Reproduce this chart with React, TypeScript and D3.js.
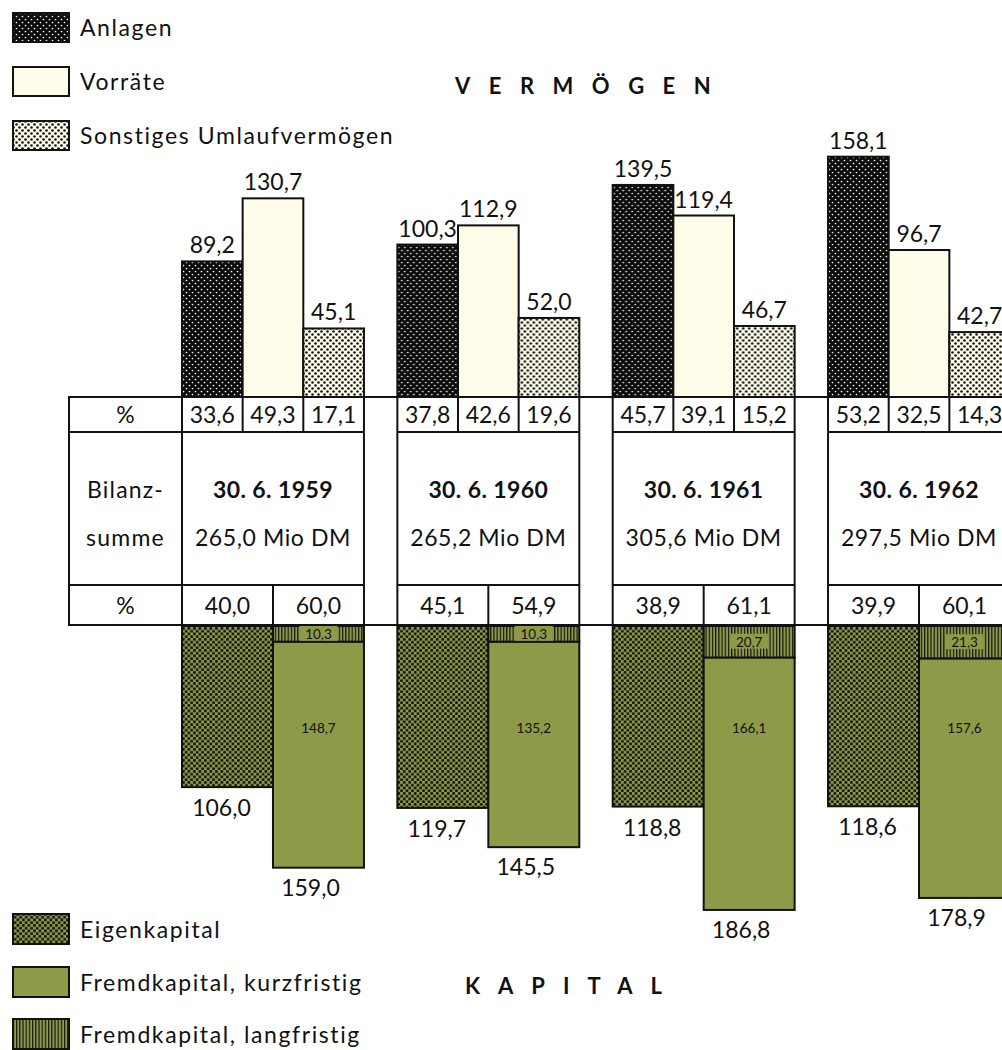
import React from "react";
import * as d3 from "d3";

const years = ["1959", "1960", "1961", "1962"];
const dates = ["30. 6. 1959", "30. 6. 1960", "30. 6. 1961", "30. 6. 1962"];
const bilanzsumme = [265.0, 265.2, 305.6, 297.5];
const anlagen = [89.2, 100.3, 139.5, 158.1];
const vorraete = [130.7, 112.9, 119.4, 96.7];
const sonstiges = [45.1, 52.0, 46.7, 42.7];
const pctAnlagen = [33.6, 37.8, 45.7, 53.2];
const pctVorraete = [49.3, 42.6, 39.1, 32.5];
const pctSonstiges = [17.1, 19.6, 15.2, 14.3];
const eigenkapital = [106.0, 119.7, 118.8, 118.6];
const fremdKurz = [148.7, 135.2, 166.1, 157.6];
const fremdLang = [10.3, 10.3, 20.7, 21.3];
const fremdGesamt = [159.0, 145.5, 186.8, 178.9];
const pctEigen = [40.0, 45.1, 38.9, 39.9];
const pctFremd = [60.0, 54.9, 61.1, 60.1];

const vermKeys = ["anlagen", "vorraete", "sonstiges"];
const kapKeys = ["eigen", "fremd"];

const FONT = "Lato, 'Noto Sans', sans-serif";
const GREEN = "#8d9a48";
const CREAM = "#fffdea";

const fmt = (v: number) => d3.format(".1f")(v).replace(".", ",");

export default function App() {
  const W = 1002, H = 1050;
  const baseTop = 397;
  const baseBot = 626;
  const tRow1 = 432, tRow2 = 585;
  const labelLeft = 69;

  const x = d3.scaleBand<string>().domain(years).range([182, 1010]).paddingInner(0.155).paddingOuter(0);
  const bw = x.bandwidth();
  const xv = d3.scaleBand<string>().domain(vermKeys).range([0, bw]).padding(0);
  const xk = d3.scaleBand<string>().domain(kapKeys).range([0, bw]).padding(0);
  const y = d3.scaleLinear().domain([0, 200]).range([0, 304]);

  const vermFill: Record<string, string> = {
    anlagen: "url(#pAnlagen)",
    vorraete: CREAM,
    sonstiges: "url(#pSonst)",
  };
  const vermVals: Record<string, number[]> = { anlagen, vorraete, sonstiges };
  const vermPct: Record<string, number[]> = { anlagen: pctAnlagen, vorraete: pctVorraete, sonstiges: pctSonstiges };

  const textBase = { fontFamily: FONT, fill: "#111" } as const;
  const TS = 23; // table font size
  const LS = 0.6; // table letter spacing

  return (
    <svg width={W} height={H} style={{ position: "absolute", left: 0, top: 0, background: "#fff" }}>
      <defs>
        <pattern id="pAnlagen" width="6" height="6" patternUnits="userSpaceOnUse">
          <rect width="6" height="6" fill="#0b0b0b" />
          <circle cx="1.5" cy="1.5" r="0.85" fill="#fff" />
          <circle cx="4.5" cy="4.5" r="0.85" fill="#fff" />
        </pattern>
        <pattern id="pSonst" width="6" height="6" patternUnits="userSpaceOnUse">
          <rect width="6" height="6" fill={CREAM} />
          <circle cx="1.5" cy="1.5" r="1.3" fill="#111" />
          <circle cx="4.5" cy="4.5" r="1.3" fill="#111" />
        </pattern>
        <pattern id="pEigen" width="5.5" height="5.5" patternUnits="userSpaceOnUse">
          <rect width="5.5" height="5.5" fill={GREEN} />
          <circle cx="1.4" cy="1.4" r="1.5" fill="#151510" />
          <circle cx="4.15" cy="4.15" r="1.5" fill="#151510" />
        </pattern>
        <pattern id="pLang" width="3.2" height="6" patternUnits="userSpaceOnUse">
          <rect width="3.2" height="6" fill={GREEN} />
          <rect x="0" width="1.2" height="6" fill="#151510" />
        </pattern>
      </defs>

      {/* Top legend */}
      {[
        { label: "Anlagen", fill: "url(#pAnlagen)", y: 13 },
        { label: "Vorräte", fill: CREAM, y: 67 },
        { label: "Sonstiges Umlaufvermögen", fill: "url(#pSonst)", y: 121 },
      ].map((d) => (
        <g key={d.label}>
          <rect x={13} y={d.y} width={56} height={29} fill={d.fill} stroke="#111" strokeWidth={2} />
          <text x={80} y={d.y + 23} fontSize={23} letterSpacing={1.6} {...textBase}>{d.label}</text>
        </g>
      ))}
      <text x={455} y={94} fontSize={22} fontWeight="bold" letterSpacing={18.5} {...textBase}>VERMÖGEN</text>

      {/* Vermögen bars */}
      {years.map((yr, i) => (
        <g key={"v" + yr} transform={`translate(${x(yr)},0)`}>
          {vermKeys.map((k) => {
            const v = vermVals[k][i];
            const h = y(v);
            return (
              <g key={k}>
                <rect x={xv(k)!} y={baseTop - h} width={xv.bandwidth()} height={h} fill={vermFill[k]} stroke="#111" strokeWidth={2} />
                <text x={xv(k)! + xv.bandwidth() / 2} y={baseTop - h - 8} textAnchor="middle" fontSize={23} {...textBase}>{fmt(v)}</text>
              </g>
            );
          })}
        </g>
      ))}

      {/* Kapital bars */}
      {years.map((yr, i) => {
        const ex = xk("eigen")!, fx = xk("fremd")!, kw = xk.bandwidth();
        const hE = y(eigenkapital[i]);
        const hL = y(fremdLang[i]);
        const hK = y(fremdKurz[i]);
        const hT = y(fremdGesamt[i]);
        return (
          <g key={"k" + yr} transform={`translate(${x(yr)},0)`}>
            <rect x={ex} y={baseBot} width={kw} height={hE} fill="url(#pEigen)" stroke="#111" strokeWidth={2} />
            <rect x={fx} y={baseBot + hL} width={kw} height={hK} fill={GREEN} stroke="#111" strokeWidth={2} />
            <rect x={fx} y={baseBot} width={kw} height={hL} fill="url(#pLang)" stroke="#111" strokeWidth={2} />
            <rect x={fx + kw / 2 - 19} y={baseBot + hL / 2 - 8} width={38} height={15} fill={GREEN} />
            <text x={fx + kw / 2} y={baseBot + hL / 2 + 5} textAnchor="middle" fontSize={13.5} {...textBase}>{fmt(fremdLang[i])}</text>
            <text x={fx + kw / 2} y={baseBot + 107} textAnchor="middle" fontSize={13.5} {...textBase}>{fmt(fremdKurz[i])}</text>
            <text x={ex + kw / 2 - 6} y={baseBot + hE + 29} textAnchor="middle" fontSize={23} {...textBase}>{fmt(eigenkapital[i])}</text>
            <text x={fx + kw / 2 - 8} y={baseBot + hT + 28} textAnchor="middle" fontSize={23} {...textBase}>{fmt(fremdGesamt[i])}</text>
          </g>
        );
      })}

      {/* Table */}
      <g stroke="#111" strokeWidth={2} fill="none">
        <line x1={labelLeft} x2={W} y1={baseTop} y2={baseTop} />
        <line x1={labelLeft} x2={W} y1={baseBot - 1} y2={baseBot - 1} />
        <rect x={labelLeft} y={baseTop} width={182 - labelLeft} height={baseBot - 1 - baseTop} fill="#fff" />
        <line x1={labelLeft} x2={182} y1={tRow1} y2={tRow1} />
        <line x1={labelLeft} x2={182} y1={tRow2} y2={tRow2} />
        {years.map((yr) => (
          <g key={"t" + yr} transform={`translate(${x(yr)},0)`}>
            <rect x={0} y={baseTop} width={bw} height={baseBot - 1 - baseTop} fill="#fff" />
            <line x1={0} x2={bw} y1={tRow1} y2={tRow1} />
            <line x1={0} x2={bw} y1={tRow2} y2={tRow2} />
            {vermKeys.slice(1).map((k) => (
              <line key={k} x1={xv(k)!} x2={xv(k)!} y1={baseTop} y2={tRow1} />
            ))}
            <line x1={xk("fremd")!} x2={xk("fremd")!} y1={tRow2} y2={baseBot - 1} />
          </g>
        ))}
      </g>
      <text x={(labelLeft + 182) / 2} y={423} textAnchor="middle" fontSize={TS} {...textBase}>%</text>
      <text x={(labelLeft + 182) / 2} y={614} textAnchor="middle" fontSize={TS} {...textBase}>%</text>
      <text x={(labelLeft + 182) / 2} y={498} textAnchor="middle" fontSize={TS} letterSpacing={LS + 0.6} {...textBase}>Bilanz-</text>
      <text x={(labelLeft + 182) / 2} y={546} textAnchor="middle" fontSize={TS} letterSpacing={LS + 0.6} {...textBase}>summe</text>
      {years.map((yr, i) => (
        <g key={"tt" + yr} transform={`translate(${x(yr)},0)`}>
          {vermKeys.map((k) => (
            <text key={k} x={xv(k)! + xv.bandwidth() / 2} y={423} textAnchor="middle" fontSize={TS} {...textBase}>{fmt(vermPct[k][i])}</text>
          ))}
          <text x={bw / 2} y={498} textAnchor="middle" fontSize={TS} fontWeight="bold" letterSpacing={0.4} {...textBase}>{dates[i]}</text>
          <text x={bw / 2} y={546} textAnchor="middle" fontSize={TS} letterSpacing={LS} {...textBase}>{fmt(bilanzsumme[i]) + " Mio DM"}</text>
          <text x={xk("eigen")! + xk.bandwidth() / 2} y={614} textAnchor="middle" fontSize={TS} {...textBase}>{fmt(pctEigen[i])}</text>
          <text x={xk("fremd")! + xk.bandwidth() / 2} y={614} textAnchor="middle" fontSize={TS} {...textBase}>{fmt(pctFremd[i])}</text>
        </g>
      ))}

      {/* Bottom legend */}
      {[
        { label: "Eigenkapital", fill: "url(#pEigen)", y: 914 },
        { label: "Fremdkapital, kurzfristig", fill: GREEN, y: 967 },
        { label: "Fremdkapital, langfristig", fill: "url(#pLang)", y: 1019 },
      ].map((d) => (
        <g key={d.label}>
          <rect x={13} y={d.y} width={56} height={30} fill={d.fill} stroke="#111" strokeWidth={2} />
          <text x={80} y={d.y + 24} fontSize={23} letterSpacing={1.6} {...textBase}>{d.label}</text>
        </g>
      ))}
      <text x={465} y={994} fontSize={22} fontWeight="bold" letterSpacing={18} {...textBase}>KAPITAL</text>
    </svg>
  );
}
